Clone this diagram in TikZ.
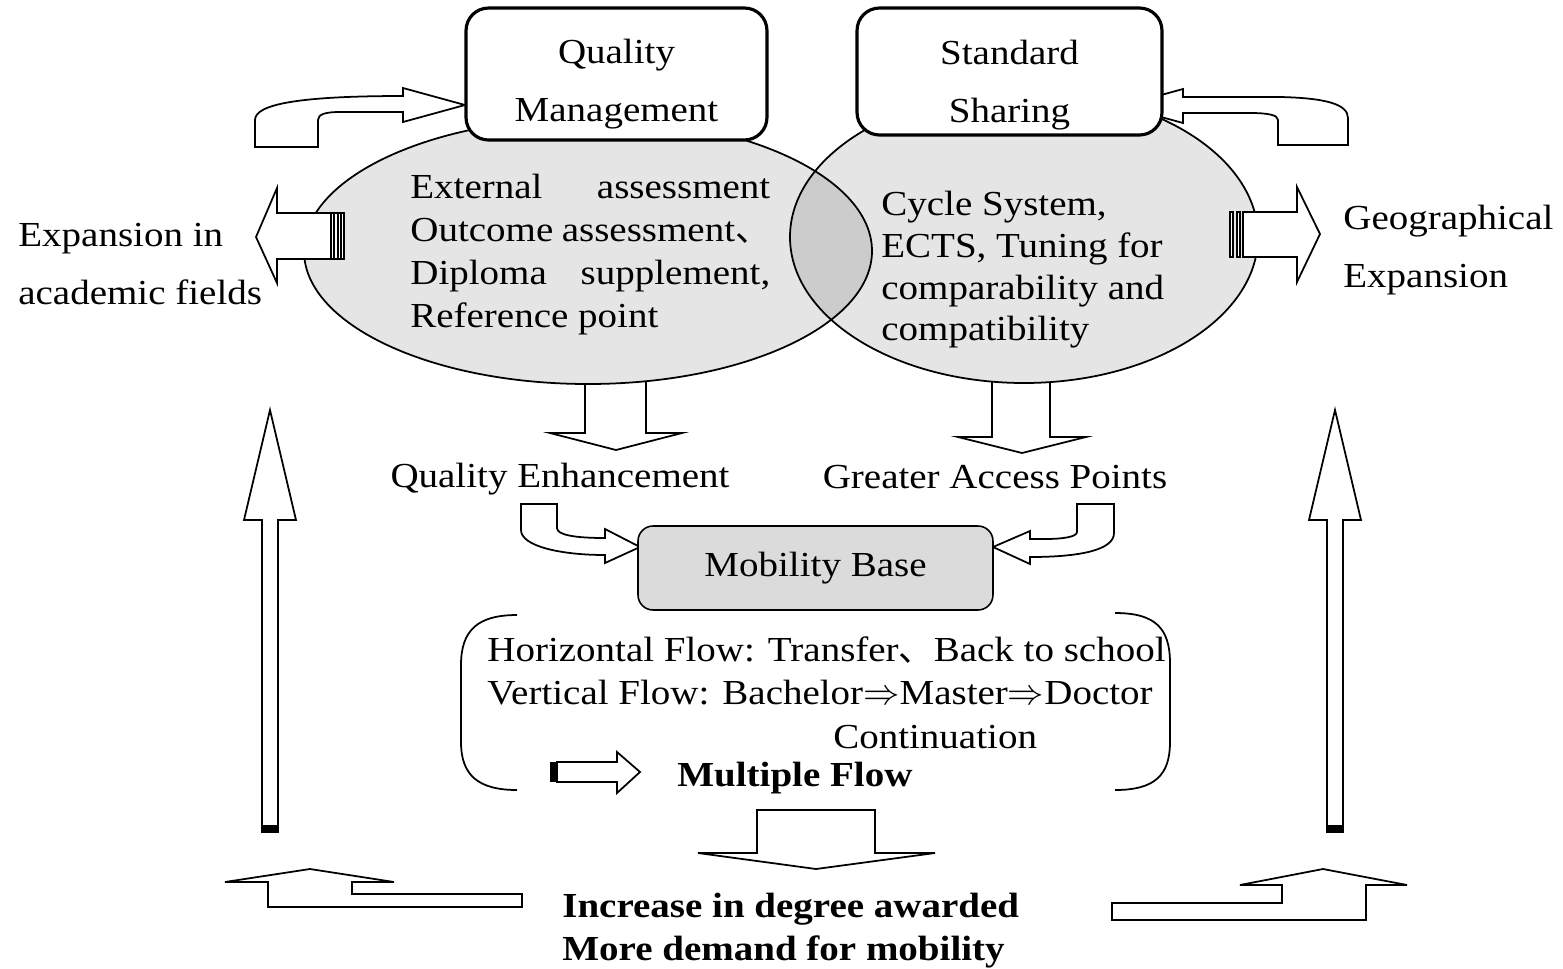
\documentclass[tikz,border=0pt]{standalone}
\usepackage{fontspec}
\setmainfont[FakeStretch=1.11]{Liberation Serif}
\newfontfamily\cjk{Noto Sans CJK JP}
\usetikzlibrary{positioning}

\begin{document}
\begin{tikzpicture}[x=0.02cm, y=-0.02cm, line join=miter]
  \tikzstyle{txt}=[inner sep=0pt, font=\fontsize{20}{24.5}\selectfont]
  \tikzstyle{blk}=[draw, line width=1pt, fill=white]
  \tikzstyle{topbox}=[draw, line width=1.8pt, rounded corners=0.45cm, fill=white, inner sep=0pt]
  \useasboundingbox[fill=white] (0,0) rectangle (1563,968);

  % arrows that go under the ellipses and boxes
  \draw[blk] (585,370) -- (585,433) -- (550,433) -- (616,450) -- (682,433) -- (646,433) -- (646,370);
  \draw[blk] (992,370) -- (992,437) -- (958,437) -- (1022,453) -- (1086,437) -- (1050,437) -- (1050,370);
  \draw[blk] (255,147) -- (255,120) .. controls (255,104) and (300,96) .. (403,96) -- (403,88)
    -- (465,105) -- (403,122) -- (403,112) -- (340,112) .. controls (326,112) and (318,114) .. (318,120)
    -- (318,147) -- cycle;
  \draw[blk] (1121,106) -- (1183,89) -- (1183,97) -- (1280,97) .. controls (1325,98) and (1348,104) .. (1348,118)
    -- (1348,145) -- (1278,145) -- (1278,120) .. controls (1278,115) and (1268,113) .. (1250,113)
    -- (1183,113) -- (1183,123) -- cycle;

  % the two ellipses
  \fill[black!10] (588,251) ellipse [x radius=284, y radius=133];
  \fill[black!10] (1024,237) ellipse [x radius=234, y radius=146];
  \begin{scope}
    \clip (588,251) ellipse [x radius=284, y radius=133];
    \fill[black!20] (1024,237) ellipse [x radius=234, y radius=146];
  \end{scope}
  \draw[line width=1pt] (588,251) ellipse [x radius=284, y radius=133];
  \draw[line width=1pt] (1024,237) ellipse [x radius=234, y radius=146];

  \node[topbox, minimum width=6.02cm, minimum height=2.64cm] (qm) at (616.5,74) {};
  \node[topbox, minimum width=6.10cm, minimum height=2.54cm] (ss) at (1009.5,71.5) {};
  \node[txt, align=center, font=\fontsize{20}{33}\selectfont] (qmlabel) at (616.5,84) {Quality\\Management};
  \node[txt, align=center, font=\fontsize{20}{33}\selectfont] (sslabel) at (1009.5,85.5) {Standard\\Sharing};

  \node[txt, anchor=north west, text width=7.2cm, align=justify] (qmtext) at (410,174)
    {External assessment\linebreak Outcome assessment{\cjk 、}\linebreak Diploma supplement,\linebreak Reference point};
  \node[txt, anchor=north west, align=left, font=\fontsize{20}{23.7}\selectfont] (sstext) at (881,191)
    {Cycle System,\\ECTS, Tuning for\\comparability and\\compatibility};

  % striped arrows
  \draw[blk] (344,213) -- (277,213) -- (277,188) -- (256,237) -- (277,283) -- (277,259) -- (344,259) -- cycle;
  \draw[blk] (331,213) rectangle (334,259);
  \draw[blk] (338,213) rectangle (341,259);
  \draw[blk] (1243,212) -- (1297,212) -- (1297,187) -- (1320,234) -- (1297,282) -- (1297,257) -- (1243,257) -- cycle;
  \draw[blk] (1230,212) rectangle (1233,257);
  \draw[blk] (1237,212) rectangle (1240,257);

  \node[txt, anchor=north west, align=left, font=\fontsize{20}{33}\selectfont] (acad) at (18,223)
    {Expansion in\\academic fields};
  \node[txt, anchor=north west, align=left, font=\fontsize{20}{33}\selectfont] (geo) at (1343,205)
    {Geographical\\Expansion};

  \node[txt] (qe) at (560,479) {Quality Enhancement};
  \node[txt] (gap) at (995,477) {Greater Access Points};

  % bent arrows into the mobility base
  \draw[blk] (521,504) -- (557,504) -- (557,528) .. controls (557,535) and (575,538) .. (605,538)
    -- (605,529) -- (640,547) -- (605,563) -- (605,555) .. controls (560,555) and (521,546) .. (521,530) -- cycle;
  \draw[blk] (1114,504) -- (1077,504) -- (1077,532) .. controls (1077,537) and (1062,539) .. (1045,539)
    -- (1030,539) -- (1030,531) -- (993,547) -- (1030,564) -- (1030,557) .. controls (1080,557) and (1114,550) .. (1114,533) -- cycle;

  \node[draw, line width=0.9pt, rounded corners=0.3cm, fill=black!14, minimum width=7.1cm, minimum height=1.68cm,
    txt] (mb) at (815.5,568) {Mobility Base};

  % bracket and flows
  \draw[line width=1pt] (517,615) .. controls (478,615) and (461,630) .. (461,665) -- (461,742)
    .. controls (461,775) and (478,790) .. (517,790);
  \draw[line width=1pt] (1115,613) .. controls (1155,613) and (1170,628) .. (1170,663) -- (1170,742)
    .. controls (1170,775) and (1155,790) .. (1115,790);
  \node[txt, anchor=north west, align=left, font=\fontsize{20}{24.8}\selectfont] (flows) at (487,636)
    {Horizontal Flow: Transfer{\cjk 、}Back to school\\Vertical Flow: Bachelor$\Rightarrow$Master$\Rightarrow$Doctor\\\hspace*{6.92cm}Continuation};
  \fill (550,762) rectangle (557,782);
  \draw[blk] (557,762) -- (617,762) -- (617,752) -- (640,772) -- (617,793) -- (617,782) -- (557,782) -- cycle;
  \node[txt, anchor=west, font=\fontsize{20}{24.5}\bfseries] (multi) at (677,778) {Multiple Flow};

  % bottom
  \draw[blk] (757,810) -- (875,810) -- (875,853) -- (935,853) -- (816,869) -- (698,853) -- (757,853) -- cycle;
  \node[txt, anchor=north west, align=left, font=\fontsize{20}{24.5}\bfseries] (result) at (562,893)
    {Increase in degree awarded\\More demand for mobility};
  \draw[blk] (225,882) -- (310,869) -- (394,882) -- (352,882) -- (352,894) -- (522,894) -- (522,907)
    -- (268,907) -- (268,882) -- cycle;
  \draw[blk] (1112,903) -- (1282,903) -- (1282,885) -- (1240,885) -- (1323,869) -- (1407,885)
    -- (1366,885) -- (1366,920) -- (1112,920) -- cycle;

  % tall arrows at the sides
  \draw[blk] (262,832) -- (262,520) -- (244,520) -- (270,410) -- (296,520) -- (278,520) -- (278,832) -- cycle;
  \fill (262,825) rectangle (278,832);
  \draw[blk] (1327,832) -- (1327,520) -- (1309,520) -- (1335,410) -- (1361,520) -- (1343,520) -- (1343,832) -- cycle;
  \fill (1327,825) rectangle (1343,832);
\end{tikzpicture}
\end{document}
